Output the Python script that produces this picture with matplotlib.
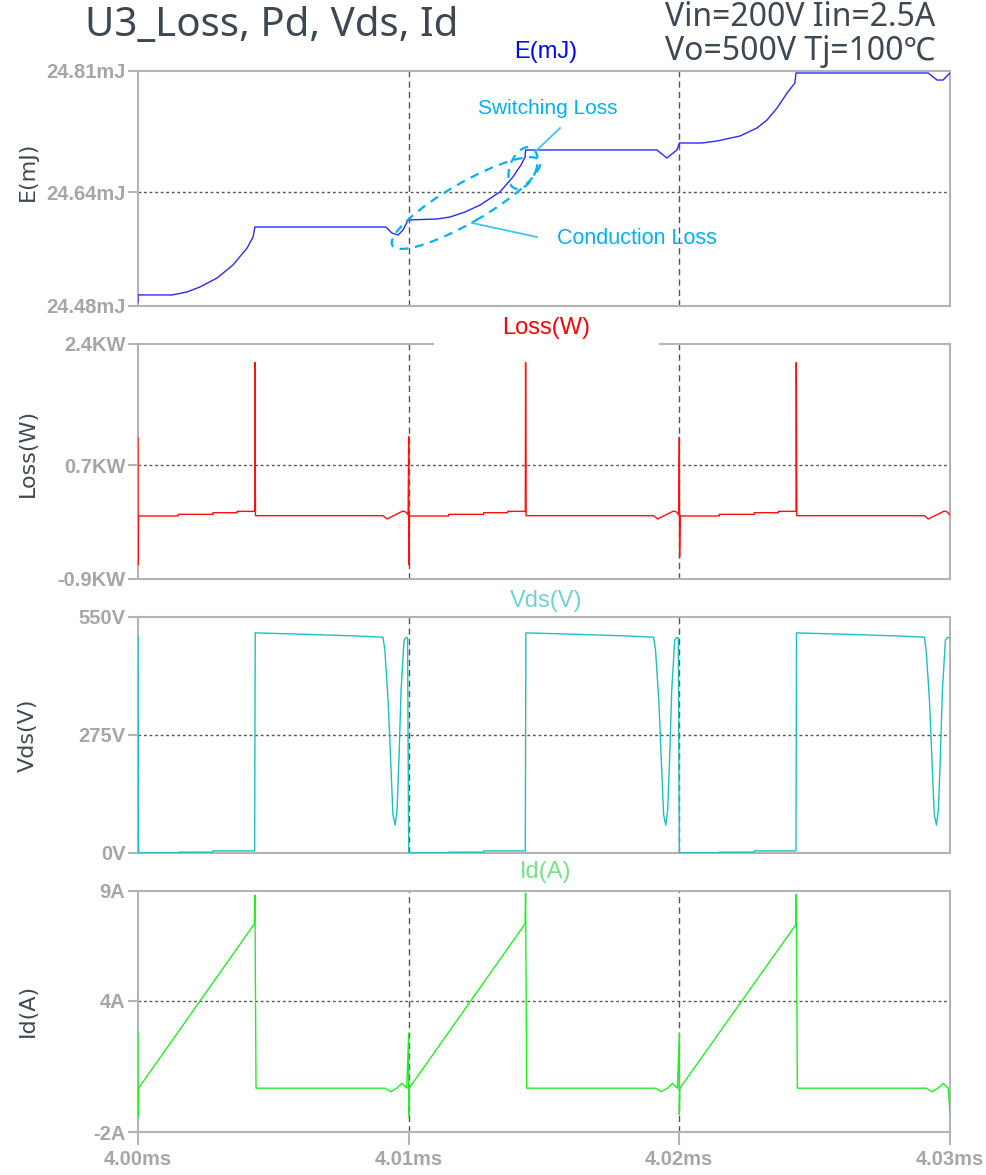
import matplotlib
matplotlib.use("Agg")
import matplotlib.pyplot as plt
from matplotlib.patches import Ellipse
from matplotlib.lines import Line2D

W, H = 986, 1175

# ---- time axis (ms) ----
x_ticks = [4.00, 4.01, 4.02, 4.03]
x_tick_labels = ["4.00ms", "4.01ms", "4.02ms", "4.03ms"]

# ---- E(mJ) : accumulated energy ----
e_time = [4.00000, 4.00000, 4.00126, 4.00181, 4.00229, 4.00292, 4.00351, 4.00403, 4.00425, 4.00432,
          4.00916, 4.00938, 4.00961, 4.00979, 4.00998,
          4.01105, 4.01153, 4.01208, 4.01264, 4.01337, 4.01385, 4.01415, 4.01430, 4.01432,
          4.01917, 4.01954, 4.01991, 4.02000,
          4.02084, 4.02139, 4.02224, 4.02287, 4.02324, 4.02361, 4.02398, 4.02427, 4.02431,
          4.02919, 4.02952, 4.02974, 4.03000]
e_mj = [24.485, 24.4955, 24.4955, 24.4997, 24.5067, 24.5193, 24.5376, 24.5614, 24.5769, 24.5909,
        24.5909, 24.5825, 24.5797, 24.5867, 24.6008,
        24.6022, 24.6050, 24.6120, 24.6218, 24.6401, 24.6611, 24.6780, 24.6892, 24.6991,
        24.6991, 24.6878, 24.6991, 24.7089,
        24.7089, 24.7117, 24.7187, 24.7300, 24.7412, 24.7580, 24.7791, 24.7932, 24.8072,
        24.8072, 24.7973, 24.7973, 24.8072]
e_ticks = [24.48, 24.64, 24.81]
e_tick_labels = ["24.48mJ", "24.64mJ", "24.81mJ"]

# ---- Loss (kW) ----
loss_time = [4.00000, 4.00000, 4.00002, 4.00148, 4.00148, 4.00277, 4.00277, 4.00366, 4.00366, 4.00431,
             4.00432, 4.00434, 4.00905, 4.00920, 4.00979, 4.00990, 4.00998,
             4.01000, 4.01001, 4.01003, 4.01148, 4.01148, 4.01277, 4.01277, 4.01366, 4.01366, 4.01431,
             4.01432, 4.01434, 4.01905, 4.01920, 4.01979, 4.01990, 4.01998,
             4.02000, 4.02001, 4.02003, 4.02148, 4.02148, 4.02277, 4.02277, 4.02366, 4.02366, 4.02431,
             4.02432, 4.02434, 4.02905, 4.02920, 4.02979, 4.02990, 4.03000]
loss_kw = [1.08, -0.70, -0.015, -0.015, 0.008, 0.008, 0.031, 0.031, 0.05, 0.05,
           2.14, -0.011, -0.011, -0.057, 0.055, 0.04, 0.0,
           1.10, -0.70, -0.015, -0.015, 0.008, 0.008, 0.031, 0.031, 0.05, 0.05,
           2.14, -0.011, -0.011, -0.057, 0.055, 0.04, 0.0,
           1.09, -0.59, -0.015, -0.015, 0.008, 0.008, 0.031, 0.031, 0.05, 0.05,
           2.14, -0.011, -0.011, -0.057, 0.055, 0.04, 0.0]
loss_ticks = [-0.9, 0.7, 2.4]
loss_tick_labels = ["-0.9KW", "0.7KW", "2.4KW"]

# ---- Vds (V) ----
vds_time = [4.00000, 4.00002, 4.00148, 4.00148, 4.00277, 4.00277, 4.00431,
            4.00433, 4.00600, 4.00800, 4.00905, 4.00912, 4.00924, 4.00935, 4.00942, 4.00950,
            4.00957, 4.00964, 4.00972, 4.00983, 4.00990, 4.00996,
            4.01000, 4.01148, 4.01148, 4.01277, 4.01277, 4.01431,
            4.01433, 4.01600, 4.01800, 4.01905, 4.01912, 4.01924, 4.01935, 4.01942, 4.01950,
            4.01957, 4.01964, 4.01972, 4.01983, 4.01990, 4.01996,
            4.02000, 4.02148, 4.02148, 4.02277, 4.02277, 4.02431,
            4.02433, 4.02600, 4.02800, 4.02905, 4.02912, 4.02924, 4.02935, 4.02942, 4.02950,
            4.02957, 4.02964, 4.02972, 4.02983, 4.02990, 4.03000]
vds_v = [505, 0.5, 0.5, 2, 2, 5, 5,
         513, 510, 506, 503, 473, 357, 193, 89, 65,
         100, 217, 380, 496, 502, 502,
         0.5, 0.5, 2, 2, 5, 5,
         513, 510, 506, 503, 473, 357, 193, 89, 65,
         100, 217, 380, 496, 502, 502,
         0.5, 0.5, 2, 2, 5, 5,
         513, 510, 506, 503, 473, 357, 193, 89, 65,
         100, 217, 380, 496, 502, 502]
vds_ticks = [0, 275, 550]
vds_tick_labels = ["0V", "275V", "550V"]

# ---- Id (A) ----
id_time = [4.00000, 4.00000, 4.00002, 4.00430, 4.00432, 4.00436,
           4.00912, 4.00934, 4.00956, 4.00975, 4.00993,
           4.01000, 4.01000, 4.01002, 4.01430, 4.01432, 4.01436,
           4.01912, 4.01934, 4.01956, 4.01975, 4.01993,
           4.02000, 4.02000, 4.02002, 4.02430, 4.02432, 4.02436,
           4.02912, 4.02934, 4.02956, 4.02975, 4.02993, 4.03000]
id_a = [2.5, -1.3, 0.0, 7.5, 8.8, 0.0,
        0.0, -0.16, 0.0, 0.22, 0.0,
        2.5, -1.3, 0.0, 7.5, 8.9, 0.0,
        0.0, -0.16, 0.0, 0.22, 0.0,
        2.5, -1.2, 0.0, 7.45, 8.85, 0.0,
        0.0, -0.16, 0.0, 0.22, 0.0, -1.1]
id_ticks = [-2, 4, 9]
id_tick_labels = ["-2A", "4A", "9A"]

TICK_FONT = ["Liberation Sans", "DejaVu Sans"]
LABEL_FONT = ["DejaVu Sans"]
HEAD_FONT = ["Noto Sans", "DejaVu Sans", "Noto Sans CJK JP"]
SPINE = "#b4b4b4"
GRID = "#555555"


def px_rect(top, bottom):
    return [138 / W, 1 - bottom / H, (950 - 138) / W, (bottom - top) / H]


def style_axes(ax, ticks, labels, show_x):
    ax.set_xlim(4.00, 4.03)
    ax.set_ylim(ticks[0], ticks[-1])
    ax.set_yticks(ticks)
    ax.set_yticklabels(labels, fontfamily=TICK_FONT, fontweight="bold",
                       fontsize=14.5, color="#a6a6a6")
    ax.set_xticks(x_ticks)
    if show_x:
        ax.set_xticklabels(x_tick_labels, fontfamily=TICK_FONT, fontweight="bold",
                           fontsize=14.5, color="#a6a6a6")
        ax.tick_params(axis="x", length=9, width=1.5, color=SPINE, pad=4)
    else:
        ax.tick_params(axis="x", length=0, labelbottom=False)
    ax.tick_params(axis="y", length=7, width=1.5, color=SPINE, pad=2)
    for s in ax.spines.values():
        s.set_color(SPINE)
        s.set_linewidth(1.5)
    ax.axhline(ticks[1], color=GRID, lw=1, ls=(0, (2, 2)), zorder=1)
    for xv in x_ticks[1:3]:
        ax.axvline(xv, color=GRID, lw=1, ls=(0, (4.5, 3)), zorder=1)


fig = plt.figure(figsize=(W / 100, H / 100), dpi=100)

panels = [
    (71, 306, e_time, e_mj, "#2a2aff", e_ticks, e_tick_labels, "E(mJ)", "#0000ff", 52, 171),
    (344, 579, loss_time, loss_kw, "#ff1010", loss_ticks, loss_tick_labels, "Loss(W)", "#ff0000", 328, 453),
    (617, 853, vds_time, vds_v, "#1cc0c0", vds_ticks, vds_tick_labels, "Vds(V)", "#72d2d2", 601, 735),
    (891, 1132, id_time, id_a, "#22ee22", id_ticks, id_tick_labels, "Id(A)", "#74e28a", 872, 1010),
]

axes = []
for i, (top, bot, t, v, col, ticks, tl, name, tcol, ty, ly) in enumerate(panels):
    ax = fig.add_axes(px_rect(top, bot))
    ax.plot(t, v, color=col, lw=1.0, zorder=3)
    style_axes(ax, ticks, tl, i == 3)
    fig.text(546 / W, 1 - ty / H, name, color=tcol, fontsize=17,
             family=["Liberation Sans", "DejaVu Sans"], ha="center", va="center")
    fig.text(28 / W, 1 - ly / H, name, color="#404a52", fontsize=16,
             family=LABEL_FONT, rotation=90, ha="center", va="center")
    axes.append(ax)

# gap in the top border of the Loss panel behind its title
ax2 = axes[1]
ax2.spines["top"].set_visible(False)
ax2.plot([0, (433 - 138) / 812], [1, 1], transform=ax2.transAxes, color=SPINE,
         lw=1.5, clip_on=False)
ax2.plot([(660 - 138) / 812, 1], [1, 1], transform=ax2.transAxes, color=SPINE,
         lw=1.5, clip_on=False)

# header texts
fig.text(85 / W, 1 - 26 / H, "U3_Loss, Pd, Vds, Id", fontsize=29, color="#3d4852",
         family=HEAD_FONT, ha="left", va="center")
fig.text(935 / W, 1 - 18 / H, "Vin=200V Iin=2.5A", fontsize=23, color="#3d4852",
         family=HEAD_FONT, ha="right", va="center")
fig.text(935 / W, 1 - 52 / H, "Vo=500V Tj=100℃", fontsize=23, color="#3d4852",
         family=HEAD_FONT, ha="right", va="center")


# annotation shapes in pixel space
def px(x, y):
    return (x / 100, (H - y) / 100)


ANN = "#00b0f0"
tr = fig.dpi_scale_trans
fig.add_artist(Ellipse(px(466, 203), 170 / 100, 40 / 100, angle=30, transform=tr,
                       fill=False, ec=ANN, lw=1.6, ls=(0, (4, 3))))
fig.add_artist(Ellipse(px(523, 168), 44 / 100, 26 / 100, angle=68, transform=tr,
                       fill=False, ec=ANN, lw=1.6, ls=(0, (4, 3))))
fig.add_artist(Line2D([px(560, 128)[0], px(535, 152)[0]], [px(560, 128)[1], px(535, 152)[1]],
                      transform=tr, color="#40c4f4", lw=1.3))
fig.add_artist(Line2D([px(472, 223)[0], px(537, 237)[0]], [px(472, 223)[1], px(537, 237)[1]],
                      transform=tr, color="#40c4f4", lw=1.3))
fig.text(478 / W, 1 - 108 / H, "Switching Loss", color=ANN, fontsize=15,
         family=["Liberation Sans", "DejaVu Sans"], ha="left", va="center")
fig.text(557 / W, 1 - 238 / H, "Conduction Loss", color=ANN, fontsize=15.5,
         family=["Liberation Sans", "DejaVu Sans"], ha="left", va="center")

fig.savefig("out.png", dpi=100)
